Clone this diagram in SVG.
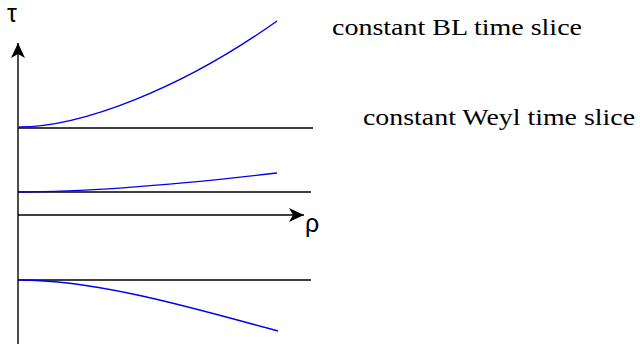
<svg xmlns="http://www.w3.org/2000/svg" width="640" height="348" viewBox="0 0 640 348">
<style>
.ax{stroke:#000;stroke-width:1.4;fill:none}
.cv{stroke:#0000f0;stroke-width:1.4;fill:none}
.lbl{font-family:"Liberation Serif","Times New Roman",serif;font-size:24px;fill:#000}
.sym{font-family:"Liberation Sans",Arial,sans-serif;font-size:25px;fill:#000}
</style>
<defs>
<marker id="ah" markerWidth="15" markerHeight="14" refX="15" refY="7" orient="auto" markerUnits="userSpaceOnUse">
<path d="M0,0 L15,7 L0,14 L4,7 Z" fill="#000"/>
</marker>
</defs>
<rect width="640" height="348" fill="#fff"/>
<g id="axes">
<line class="ax" x1="18" y1="344" x2="18" y2="43" marker-end="url(#ah)"/>
<line class="ax" x1="18" y1="215" x2="304" y2="215" marker-end="url(#ah)"/>
<text class="sym" x="7" y="22">τ</text>
<text class="sym" x="305" y="232">ρ</text>
</g>
<g id="weyl-slices">
<line class="ax" x1="18" y1="128" x2="313" y2="128"/>
<line class="ax" x1="18" y1="192" x2="311" y2="192"/>
<line class="ax" x1="18" y1="280" x2="311" y2="280"/>
</g>
<g id="bl-slices">
<path class="cv" d="M19,127 C80,127 180,90 277,21"/>
<path class="cv" d="M19,192 C100,192 200,182 277,173"/>
<path class="cv" d="M19,280 C100,280 200,310 278,331"/>
</g>
<g id="labels">
<text class="lbl" x="332" y="35" textLength="250" lengthAdjust="spacingAndGlyphs">constant BL time slice</text>
<text class="lbl" x="363" y="125" textLength="272" lengthAdjust="spacingAndGlyphs">constant Weyl time slice</text>
</g>
</svg>
